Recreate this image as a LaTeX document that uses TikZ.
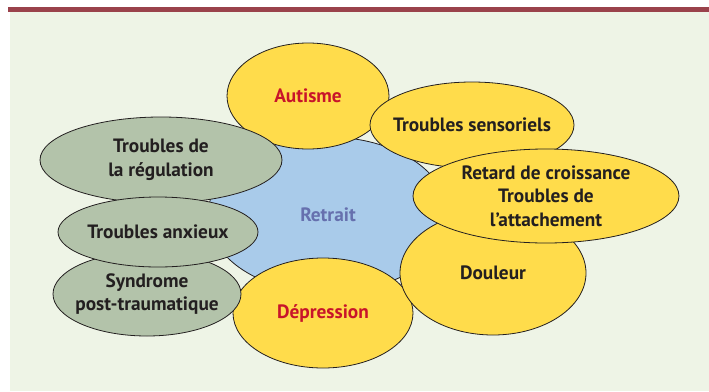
\documentclass[tikz,border=0pt]{standalone}
\usepackage{fontspec}
\setsansfont{PT Sans}
\usetikzlibrary{shapes.geometric}

\definecolor{band}{HTML}{9A424B}
\definecolor{paper}{HTML}{EEF4E6}
\definecolor{sun}{HTML}{FFDC4B}
\definecolor{sage}{HTML}{B3C3AA}
\definecolor{sky}{HTML}{A9CBEA}
\definecolor{ink}{HTML}{231F20}
\definecolor{alert}{HTML}{C8142A}
\definecolor{slate}{HTML}{6670AE}

\begin{document}
\begin{tikzpicture}[x=1pt,y=-1pt,font=\sffamily\bfseries\fontsize{19.3}{23.5}\selectfont,
    blob/.style={ellipse,draw=ink,line width=0.8pt,inner sep=-30pt,align=center,text=ink},
    yel/.style={blob,fill=sun},
    grn/.style={blob,fill=sage}]

        \useasboundingbox (0,0) rectangle (709,391);

        % Page: band on top, pale ground
        \path[fill=paper] (10,12) rectangle (709,391);
        \path[fill=band] (8,6.5) rectangle (709,12);

        % Centre
        \node[blob,fill=sky,text=slate,minimum width=240pt,minimum height=156pt] (retrait) at (328,215) {Retrait};

        % Yellow sets, back to front
        \node[yel,text=alert,minimum width=162pt,minimum height=106pt] (autisme) at (308,96) {Autisme};
        \node[yel,minimum width=204pt,minimum height=86pt] (sensoriels) at (472,125) {Troubles sensoriels};
        \node[yel,text=alert,minimum width=180pt,minimum height=110pt] (depression) at (323,313) {Dépression};
        \node[yel,minimum width=186pt,minimum height=124pt] (douleur) at (493,273) {Douleur};
        \node[yel,minimum width=266pt,minimum height=94pt] (retard) at (546,196) {Retard de croissance\\Troubles de\\l’attachement};

        % Green sets
        \node[grn,minimum width=242pt,minimum height=86pt] (regulation) at (161,160) {Troubles de\\la régulation};
        \node[grn,minimum width=188pt,minimum height=84pt] (syndrome) at (147,294) {Syndrome\\post-traumatique};
        \node[grn,minimum width=200pt,minimum height=70pt] (anxieux) at (158,232) {Troubles anxieux};
    \end{tikzpicture}
\end{document}
